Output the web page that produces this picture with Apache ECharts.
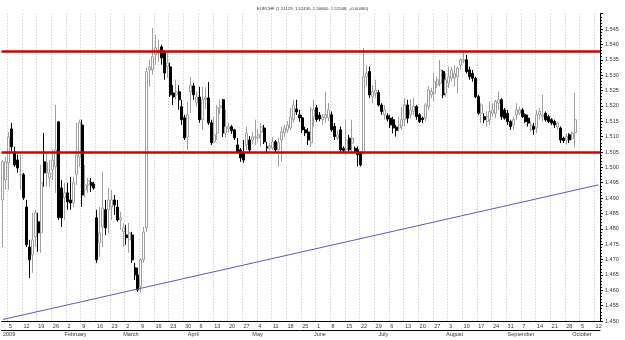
<!DOCTYPE html>
<html>
<head>
<meta charset="utf-8">
<script src="https://cdn.jsdelivr.net/npm/echarts@6/dist/echarts.min.js"></script>
<style>
html, body { margin: 0; padding: 0; background: #fff; }
#chart { width: 625px; height: 340px; }
</style>
</head>
<body>
<div id="chart"></div>
<script>
// EURCHF daily candles, Jan - Oct 2009
var opens = [1.4894,1.4959,1.5015,1.5125,1.5050,1.5024,1.4976,1.4976,1.4871,1.4741,1.4715,1.4774,1.4823,1.4787,1.5018,1.4982,1.4966,1.4992,1.5002,1.5148,1.4933,1.4901,1.4917,1.4894,1.4884,1.4976,1.5034,1.5138,1.4927,1.4943,1.4950,
  1.4946,1.4836,1.4754,1.4806,1.4862,1.4862,1.4871,1.4894,1.4871,1.4829,1.4790,1.4780,1.4764,1.4780,1.4673,1.4650,1.4611,1.4699,
  1.4803,1.5317,1.5317,1.5366,1.5373,1.5392,1.5373,1.5327,1.5327,1.5242,1.5236,1.5246,1.5197,1.5161,1.5099,1.5246,1.5265,1.5210,1.5229,1.5155,1.5220,1.5226,1.5145,1.5083,1.5112,1.5194,1.5220,1.5112,1.5125,1.5132,1.5122,1.5073,1.5057,1.5050,1.5073,1.5089,1.5089,1.5096,1.5096,1.5115,1.5128,1.5067,1.5063,
  1.5063,1.5083,1.5057,1.5089,1.5112,1.5122,1.5128,1.5155,1.5190,1.5171,1.5161,1.5122,1.5115,1.5080,1.5164,1.5194,1.5170,1.5155,1.5161,1.5161,
  1.5171,1.5133,1.5095,1.5122,1.5062,1.5057,1.5095,1.5079,1.5062,1.5057,1.5046,1.5046,
  1.5295,1.5312,1.5230,1.5241,1.5243,1.5203,1.5171,1.5168,1.5160,1.5155,1.5131,1.5128,1.5135,1.5155,1.5203,1.5171,1.5182,1.5198,1.5171,1.5160,1.5160,1.5198,1.5236,1.5241,1.5268,1.5274,1.5312,1.5241,1.5274,1.5290,1.5290,1.5295,1.5333,1.5347,
  1.5350,1.5317,1.5306,1.5290,1.5230,1.5176,1.5165,1.5149,1.5155,1.5176,1.5176,1.5209,1.5220,1.5187,1.5176,1.5149,1.5138,1.5171,1.5176,1.5187,1.5171,1.5160,1.5122,1.5133,1.5128,1.5171,1.5165,1.5176,1.5165,1.5155,1.5149,1.5131,1.5128,1.5095,1.5089,1.5106,1.5095,1.51129]
var closes = [1.5018,1.5018,1.5099,1.5067,1.5008,1.4998,1.4977,1.4901,1.4748,1.4699,1.4764,1.4852,1.4787,1.4950,1.4982,1.5015,1.4982,1.5024,1.5057,1.4836,1.4836,1.4917,1.4888,1.4884,1.4950,1.5041,1.5145,1.4910,1.4943,1.4956,1.4940,
  1.4933,1.4699,1.4787,1.4868,1.4803,1.4894,1.4894,1.4878,1.4829,1.4836,1.4803,1.4771,1.4787,1.4699,1.4650,1.4601,1.4699,1.4790,
  1.5311,1.5327,1.5360,1.5389,1.5382,1.5356,1.5307,1.5340,1.5236,1.5229,1.5246,1.5220,1.5155,1.5096,1.5171,1.5268,1.5236,1.5229,1.5155,1.5220,1.5226,1.5145,1.5080,1.5106,1.5194,1.5200,1.5112,1.5132,1.5132,1.5119,1.5096,1.5050,1.5031,1.5024,1.5112,1.5057,1.5099,1.5099,1.5106,1.5132,1.5083,1.5063,1.5070,
  1.5083,1.5057,1.5080,1.5115,1.5128,1.5138,1.5164,1.5203,1.5180,1.5161,1.5122,1.5112,1.5089,1.5187,1.5187,1.5155,1.5158,1.5164,1.5171,1.5187,
  1.5122,1.5100,1.5106,1.5057,1.5055,1.5089,1.5057,1.5095,1.5051,1.5041,1.5008,1.5295,
  1.5306,1.5236,1.5247,1.5252,1.5203,1.5182,1.5187,1.5157,1.5138,1.5128,1.5120,1.5138,1.5155,1.5203,1.5160,1.5187,1.5198,1.5165,1.5149,1.5155,1.5203,1.5252,1.5247,1.5279,1.5285,1.5317,1.5236,1.5285,1.5295,1.5317,1.5306,1.5323,1.5350,1.5350,
  1.5312,1.5295,1.5290,1.5230,1.5176,1.5203,1.5155,1.5165,1.5182,1.5187,1.5214,1.5220,1.5165,1.5160,1.5149,1.5133,1.5155,1.5187,1.5187,1.5165,1.5149,1.5144,1.5138,1.5124,1.5171,1.5182,1.5171,1.5155,1.5149,1.5144,1.5138,1.5144,1.5089,1.5087,1.5100,1.5089,1.5111,1.51548]
var lows = [1.4741,1.4927,1.4927,1.5050,1.5002,1.4982,1.4927,1.4894,1.4741,1.4640,1.4657,1.4741,1.4725,1.4722,1.4937,1.4937,1.4937,1.4959,1.4917,1.4829,1.4806,1.4829,1.4862,1.4862,1.4871,1.4943,1.5002,1.4871,1.4904,1.4917,1.4920,
  1.4927,1.4689,1.4709,1.4741,1.4780,1.4787,1.4829,1.4845,1.4823,1.4797,1.4741,1.4748,1.4722,1.4689,1.4634,1.4595,1.4592,1.4689,
  1.4790,1.5262,1.5301,1.5334,1.5343,1.5334,1.5285,1.5291,1.5229,1.5203,1.5220,1.5187,1.5138,1.5089,1.5057,1.5177,1.5220,1.5197,1.5145,1.5122,1.5190,1.5138,1.5073,1.5080,1.5089,1.5174,1.5099,1.5096,1.5112,1.5109,1.5089,1.5047,1.5018,1.5015,1.5057,1.5050,1.5076,1.5073,1.5083,1.5067,1.5076,1.5050,1.5055,
  1.5057,1.5047,1.5002,1.5018,1.5099,1.5112,1.5122,1.5145,1.5171,1.5148,1.5112,1.5102,1.5073,1.5067,1.5132,1.5148,1.5150,1.5138,1.5145,1.5151,
  1.5116,1.5089,1.5089,1.5046,1.5046,1.5041,1.5047,1.5046,1.5046,1.5003,1.5003,1.5041,
  1.5263,1.5225,1.5209,1.5225,1.5198,1.5171,1.5155,1.5149,1.5128,1.5111,1.5100,1.5116,1.5122,1.5133,1.5144,1.5160,1.5171,1.5155,1.5144,1.5144,1.5149,1.5187,1.5225,1.5214,1.5258,1.5263,1.5225,1.5230,1.5258,1.5279,1.5263,1.5241,1.5317,1.5339,
  1.5306,1.5285,1.5279,1.5225,1.5171,1.5144,1.5144,1.5133,1.5138,1.5165,1.5160,1.5187,1.5155,1.5155,1.5138,1.5122,1.5122,1.5155,1.5171,1.5160,1.5144,1.5133,1.5116,1.5106,1.5111,1.5155,1.5149,1.5149,1.5144,1.5138,1.5128,1.5122,1.5079,1.5079,1.5073,1.5079,1.5089,1.50660]
var highs = [1.5024,1.5034,1.5115,1.5145,1.5067,1.5041,1.5041,1.4982,1.4894,1.4764,1.4852,1.4862,1.4852,1.5008,1.5112,1.5047,1.5024,1.5057,1.5203,1.5151,1.4959,1.4950,1.4950,1.4969,1.4969,1.5145,1.5155,1.5155,1.5008,1.4966,1.4965,
  1.4953,1.4862,1.4871,1.4985,1.4894,1.4933,1.4927,1.4910,1.4894,1.4855,1.4819,1.4813,1.4819,1.4790,1.4689,1.4673,1.4705,1.4806,
  1.5324,1.5350,1.5454,1.5431,1.5415,1.5399,1.5382,1.5376,1.5340,1.5268,1.5285,1.5268,1.5220,1.5171,1.5213,1.5294,1.5275,1.5246,1.5262,1.5262,1.5259,1.5278,1.5155,1.5164,1.5203,1.5220,1.5223,1.5187,1.5145,1.5138,1.5125,1.5096,1.5063,1.5089,1.5132,1.5102,1.5115,1.5155,1.5125,1.5145,1.5138,1.5083,1.5080,
  1.5099,1.5089,1.5096,1.5132,1.5138,1.5151,1.5194,1.5220,1.5220,1.5187,1.5171,1.5132,1.5128,1.5197,1.5220,1.5203,1.5180,1.5174,1.5246,1.5210,
  1.5182,1.5144,1.5122,1.5133,1.5068,1.5155,1.5106,1.5155,1.5068,1.5068,1.5051,1.5388,
  1.5333,1.5328,1.5268,1.5285,1.5252,1.5209,1.5203,1.5176,1.5171,1.5165,1.5138,1.5165,1.5198,1.5225,1.5220,1.5220,1.5225,1.5203,1.5176,1.5165,1.5209,1.5263,1.5258,1.5306,1.5295,1.5350,1.5317,1.5306,1.5328,1.5328,1.5333,1.5328,1.5355,1.5377,
  1.5366,1.5328,1.5317,1.5295,1.5236,1.5209,1.5176,1.5182,1.5214,1.5209,1.5220,1.5247,1.5225,1.5193,1.5187,1.5155,1.5165,1.5209,1.5198,1.5193,1.5176,1.5171,1.5149,1.5144,1.5187,1.5193,1.5236,1.5182,1.5171,1.5160,1.5155,1.5149,1.5133,1.5100,1.5111,1.5111,1.5116,1.52430]

// horizontal levels and the rising trend line
var resistance = 1.5378
var support = 1.5050
var trendFrom = 1.4505
var trendTo = 1.4943

var titleText = 'EURCHF (1.51129, 1.52430, 1.50660, 1.51548, +0.00460)'
var monthNames = ['2009', 'February', 'March', 'April', 'May', 'June', 'July', 'August', 'September', 'October', 'November', 'December']

// x axis: every weekday from 1 Jan 2009 to 13 Oct 2009
var days = []
var t = Date.UTC(2009, 0, 1)
var end = Date.UTC(2009, 9, 13)
while (t <= end) {
  var wd = new Date(t).getUTCDay()
  if (wd !== 0 && wd !== 6) days.push(new Date(t).toISOString().slice(0, 10))
  t += 86400000
}

var candles = []
for (var i = 0; i < opens.length; i++) {
  candles.push([opens[i], closes[i], lows[i], highs[i]])
}

function isMonday (idx) {
  return new Date(days[idx] + 'T00:00:00Z').getUTCDay() === 1
}
function isMonthStart (idx) {
  return idx === 0 || days[idx].slice(5, 7) !== days[idx - 1].slice(5, 7)
}
// month names sit one slot left of the first day of the month
function isMonthLabel (idx) {
  return idx === 0 || (idx + 1 < days.length && isMonthStart(idx + 1))
}

var font = 'Liberation Sans, Arial, sans-serif'
var myChart = echarts.init(document.getElementById('chart'), null, {renderer: 'canvas'})
myChart.setOption({
  animation: false,
  title: {
    text: titleText,
    left: 'center',
    top: 2,
    textStyle: {fontSize: 4.3, fontWeight: 'normal', color: '#333', fontFamily: font}
  },
  grid: {left: 0, right: 25, top: 13.7, bottom: 19},
  xAxis: [{
    type: 'category',
    data: days,
    boundaryGap: true,
    axisLine: {lineStyle: {color: '#000', width: 1}},
    axisTick: {interval: isMonday, length: 9, lineStyle: {color: '#000'}},
    axisLabel: {
      interval: isMonday,
      formatter: function (v) { return String(parseInt(v.slice(8, 10), 10)) },
      align: 'left',
      margin: 2,
      fontSize: 5.5,
      color: '#333',
      fontFamily: font
    },
    splitLine: {show: true, interval: isMonday, lineStyle: {color: '#c4c4c4', type: [1, 2], width: 1}}
  }, {
    type: 'category',
    data: days,
    position: 'bottom',
    offset: 9,
    boundaryGap: true,
    axisLine: {lineStyle: {color: '#000', width: 1}},
    axisTick: {interval: isMonthLabel, length: 2, lineStyle: {color: '#000'}},
    axisLabel: {
      interval: isMonthLabel,
      formatter: function (v, idx) {
        if (idx === 0) return monthNames[0]
        return monthNames[parseInt(days[idx + 1].slice(5, 7), 10) - 1]
      },
      align: 'left',
      margin: 1,
      fontSize: 5.5,
      color: '#333',
      fontFamily: font
    },
    splitLine: {show: false}
  }],
  yAxis: {
    type: 'value',
    position: 'right',
    min: 1.45,
    max: 1.55,
    interval: 0.005,
    axisLine: {show: true, lineStyle: {color: '#000'}},
    axisTick: {show: true, length: 3, lineStyle: {color: '#000'}},
    minorTick: {show: true, splitNumber: 5, length: 2, lineStyle: {color: '#000'}},
    axisLabel: {
      showMaxLabel: false,
      formatter: function (v) { return v.toFixed(3) },
      margin: 5,
      fontSize: 5.5,
      color: '#333',
      fontFamily: font
    },
    splitLine: {show: false}
  },
  series: [{
    name: 'EURCHF',
    type: 'candlestick',
    data: candles,
    barWidth: '85%',
    itemStyle: {
      color: '#ffffff',
      color0: '#000000',
      borderColor: '#a0a0a0',
      borderColor0: '#000000',
      borderWidth: 1
    },
    markLine: {
      silent: true,
      precision: 4,
      symbol: ['none', 'none'],
      label: {show: false},
      lineStyle: {color: '#d40000', width: 2.5, type: 'solid'},
      data: [{yAxis: resistance}, {yAxis: support}]
    }
  }, {
    name: 'trend',
    type: 'line',
    data: [[days[0], trendFrom], [days[days.length - 1], trendTo]],
    symbol: 'none',
    lineStyle: {color: '#5a5ab4', width: 1}
  }]
})
</script>
</body>
</html>
